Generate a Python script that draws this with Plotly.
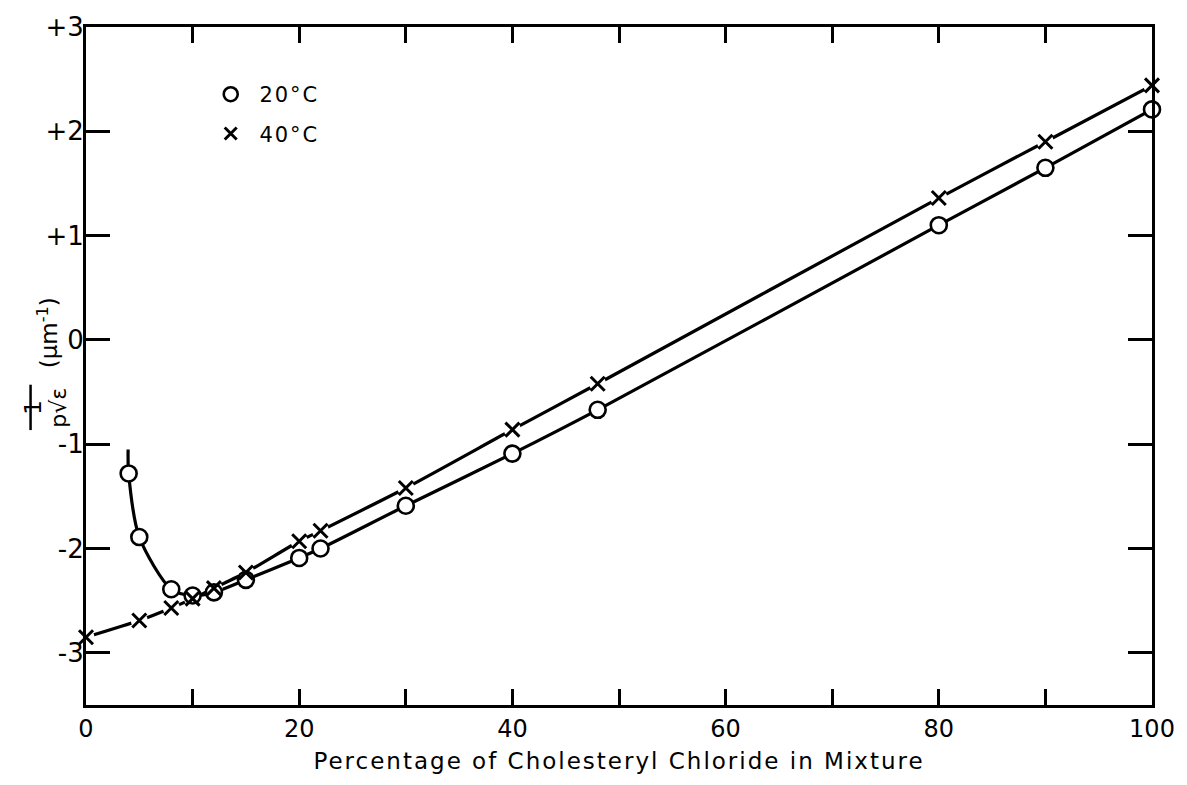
import plotly.graph_objects as go

# ---- data ----
pct_20 = [4, 5, 8, 10, 12, 15, 20, 22, 30, 40, 48, 80, 90, 100]
val_20 = [-1.28, -1.89, -2.39, -2.45, -2.42, -2.30, -2.09, -2.00, -1.59, -1.09, -0.67, 1.10, 1.65, 2.21]
# hand-drawn curve for 20 C starts a little above the first point
curve_20_x = [3.95] + pct_20
curve_20_y = [-1.05] + val_20

pct_40 = [0, 5, 8, 10, 12, 15, 20, 22, 30, 40, 48, 80, 90, 100]
val_40 = [-2.85, -2.69, -2.57, -2.48, -2.38, -2.23, -1.93, -1.83, -1.42, -0.86, -0.42, 1.36, 1.90, 2.44]

x_ticks = [0, 20, 40, 60, 80, 100]
x_ticktext = ["0", "20", "40", "60", "80", "100"]
x_minor = [10, 30, 50, 70, 90]
y_ticks = [-3, -2, -1, 0, 1, 2, 3]
y_ticktext = ["-3", "-2", "-1", "0", "+1", "+2", "+3"]

FONT = "DejaVu Sans"
SP = "letter-spacing:2px"
fig = go.Figure()

# curves
fig.add_trace(go.Scatter(x=curve_20_x, y=curve_20_y, mode="lines",
                         line=dict(color="black", width=3.2, shape="spline", smoothing=0.8),
                         showlegend=False, hoverinfo="skip", cliponaxis=False))
fig.add_trace(go.Scatter(x=pct_40, y=val_40, mode="lines",
                         line=dict(color="black", width=3.2, shape="spline", smoothing=0.6),
                         showlegend=False, hoverinfo="skip", cliponaxis=False))

# white halos under the x markers (break the line)
fig.add_trace(go.Scatter(x=pct_40, y=val_40, mode="markers",
                         marker=dict(symbol="circle", size=17, color="white", line=dict(width=0)),
                         showlegend=False, hoverinfo="skip", cliponaxis=False))
# 20 C circles
fig.add_trace(go.Scatter(x=pct_20, y=val_20, mode="markers", name="20°C",
                         marker=dict(symbol="circle", size=16, color="white",
                                     line=dict(color="black", width=2.6)),
                         showlegend=False, cliponaxis=False))
# 40 C crosses
fig.add_trace(go.Scatter(x=pct_40, y=val_40, mode="markers", name="40°C",
                         marker=dict(symbol="x-thin", size=14, color="black",
                                     line=dict(color="black", width=3)),
                         showlegend=False, cliponaxis=False))

# legend entries
fig.add_trace(go.Scatter(x=[None], y=[None], mode="markers", legendgroup="a",
                         name=f"<span style='{SP}'>\u00a020°C</span>",
                         marker=dict(symbol="circle", size=14, color="white",
                                     line=dict(color="black", width=2.6))))
fig.add_trace(go.Scatter(x=[None], y=[None], mode="markers", legendgroup="b",
                         name=f"<span style='{SP}'>\u00a040°C</span>",
                         marker=dict(symbol="x-thin", size=12, color="black",
                                     line=dict(color="black", width=3))))

fig.update_layout(
    width=1187, height=785,
    margin=dict(l=86, r=25, t=17, b=80),
    paper_bgcolor="white", plot_bgcolor="white",
    font=dict(family=FONT, color="black", size=22),
    showlegend=True,
    legend=dict(x=0.117, y=0.9306, xanchor="left", yanchor="top",
                bgcolor="rgba(0,0,0,0)", font=dict(size=21, family=FONT),
                tracegroupgap=9, itemwidth=30),
    xaxis=dict(range=[0, 100], tickmode="array", tickvals=x_ticks, ticktext=x_ticktext,
               ticks="inside", ticklen=16, tickwidth=2.5, tickcolor="black",
               minor=dict(tickmode="array", tickvals=x_minor, ticks="inside",
                          ticklen=16, tickwidth=2.5, tickcolor="black", showgrid=False),
               showline=True, linecolor="black", linewidth=3, mirror="ticks",
               showgrid=False, zeroline=False,
               tickfont=dict(size=24, family=FONT),
               title=dict(text=f"<span style='{SP}'>Percentage of Cholesteryl Chloride in Mixture</span>",
                          font=dict(size=23, family=FONT), standoff=12)),
    yaxis=dict(range=[-3.5, 3], tickvals=y_ticks, ticktext=y_ticktext,
               ticks="inside", ticklen=24, tickwidth=2.5, tickcolor="black",
               showline=True, linecolor="black", linewidth=3, mirror="ticks",
               showgrid=False, zeroline=False, ticklabelstandoff=-6,
               tickfont=dict(size=26, family=FONT)),
)

# y-axis label: fraction 1/(p sqrt(eps)) and units, rotated
fig.add_shape(type="line", xref="paper", yref="paper",
              x0=-0.052, x1=-0.052, y0=0.4055, y1=0.4724,
              line=dict(color="black", width=2.5))
fig.add_annotation(xref="paper", yref="paper", x=-0.0635, y=0.439,
                   text="1", textangle=-90, showarrow=False,
                   font=dict(size=23, family=FONT))
fig.add_annotation(xref="paper", yref="paper", x=-0.0395, y=0.439,
                   text="p√ε", textangle=-90, showarrow=False,
                   font=dict(size=22, family=FONT))
fig.add_annotation(xref="paper", yref="paper", x=-0.052, y=0.549,
                   text="(μm<sup>-1</sup>)",
                   textangle=-90, showarrow=False, font=dict(size=23, family=FONT))

fig.write_html("out.html")
